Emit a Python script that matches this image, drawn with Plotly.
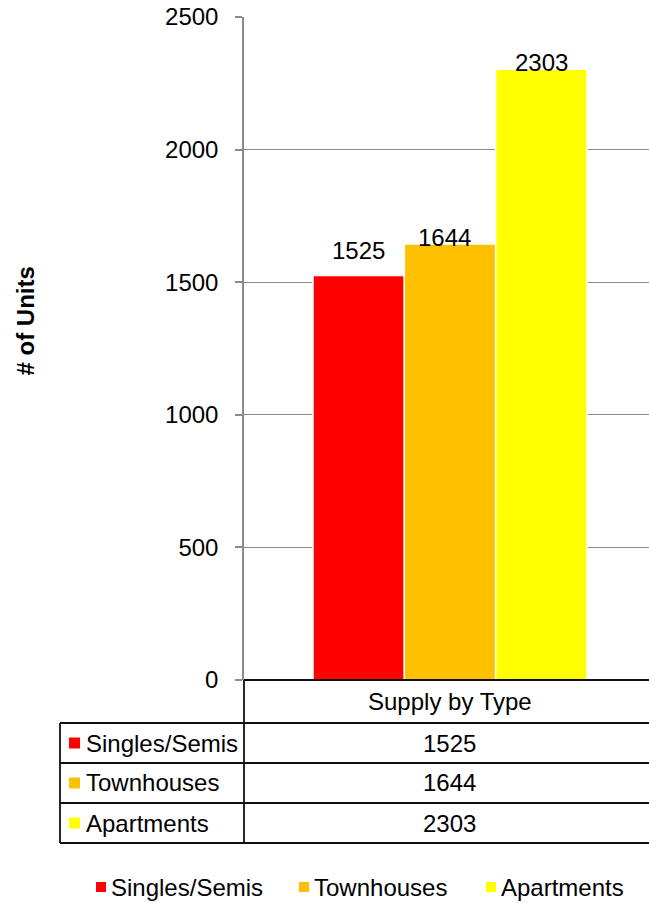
import plotly.graph_objects as go

# ---- data -------------------------------------------------------------
categories = ["Supply by Type"]
series_names = ["Singles/Semis", "Townhouses", "Apartments"]
series_values = [1525, 1644, 2303]
series_colors = ["#FF0000", "#FFC000", "#FFFF00"]
y_ticks = [0, 500, 1000, 1500, 2000, 2500]
y_title = "# of Units"

# ---- layout constants (pixels) ----------------------------------------
W, H = 649, 903
PL, PR, PT, PB = 244, 649, 17, 680      # plot area
FONT = "Arial, 'Liberation Sans', sans-serif"
FS = 24
BARGAP = 0.3235
TABLE_LEFT = 60
HEADER_H = 43
ROW_H = 40
LABEL_DX = [0, -5, 0]                    # px nudges for value labels
LABEL_DY = [10, -9, -9]
GRID = "#8a8a8a"
LEGEND_Y = 887
LEGEND_KEY_X = [96, 299, 486]            # left edge of each legend key
KEY = 10                                 # legend key size


def px_x(x):
    return (x - PL) / (PR - PL)


def px_y(y):
    return (PB - y) / (PB - PT)


fig = go.Figure()
for name, val, col in zip(series_names, series_values, series_colors):
    fig.add_trace(go.Bar(
        x=categories, y=[val], name=name,
        marker=dict(color=col, line=dict(color="white", width=1.5)),
        hoverinfo="skip", showlegend=False,
    ))

n = len(series_values)
slot = (1 - BARGAP) / n
annotations = []
shapes = []
txt = dict(family=FONT, size=FS, color="black")

# value labels above the bars
for i, val in enumerate(series_values):
    annotations.append(dict(
        x=(i - (n - 1) / 2) * slot, y=val, xref="x", yref="y",
        text=str(val), showarrow=False, xanchor="center", yanchor="bottom",
        xshift=LABEL_DX[i], yshift=LABEL_DY[i], font=txt,
    ))

# axis title
annotations.append(dict(
    x=px_x(24.5), y=px_y(321), xref="paper", yref="paper",
    text="<b>" + y_title + "</b>", textangle=-90, showarrow=False,
    xanchor="center", yanchor="middle", font=txt,
))

# ---- data table below the plot ----------------------------------------
line = dict(color="#111111", width=1.8)
top = PB
head_bot = top + HEADER_H
table_bot = head_bot + ROW_H * n
mid_x = (PL + PR) / 2 + 3

shapes.append(dict(type="line", xref="paper", yref="paper",
                   x0=px_x(PL), x1=px_x(PR), y0=px_y(top), y1=px_y(top), line=line))
annotations.append(dict(
    x=px_x(mid_x), y=px_y(top + HEADER_H / 2), xref="paper", yref="paper",
    text=categories[0], showarrow=False, xanchor="center", yanchor="middle", font=txt,
))

for r in range(n + 1):
    yy = head_bot + r * ROW_H
    shapes.append(dict(type="line", xref="paper", yref="paper",
                       x0=px_x(TABLE_LEFT), x1=px_x(PR), y0=px_y(yy), y1=px_y(yy), line=line))
shapes.append(dict(type="line", xref="paper", yref="paper",
                   x0=px_x(TABLE_LEFT), x1=px_x(TABLE_LEFT),
                   y0=px_y(head_bot), y1=px_y(table_bot), line=line))
shapes.append(dict(type="line", xref="paper", yref="paper",
                   x0=px_x(PL), x1=px_x(PL), y0=px_y(top), y1=px_y(table_bot), line=line))

for i, (name, val, col) in enumerate(zip(series_names, series_values, series_colors)):
    cy = head_bot + ROW_H * i + ROW_H / 2
    shapes.append(dict(type="rect", xref="paper", yref="paper",
                       x0=px_x(69), x1=px_x(69 + KEY + 1),
                       y0=px_y(cy - 5.5), y1=px_y(cy + 5.5),
                       fillcolor=col, line=dict(width=0)))
    annotations.append(dict(
        x=px_x(84), y=px_y(cy), xref="paper", yref="paper",
        text=name, showarrow=False, xanchor="left", yanchor="middle", font=txt,
    ))
    annotations.append(dict(
        x=px_x(mid_x), y=px_y(cy), xref="paper", yref="paper",
        text=str(val), showarrow=False, xanchor="center", yanchor="middle", font=txt,
    ))

# ---- legend along the bottom -------------------------------------------
for name, col, kx in zip(series_names, series_colors, LEGEND_KEY_X):
    shapes.append(dict(type="rect", xref="paper", yref="paper",
                       x0=px_x(kx), x1=px_x(kx + KEY),
                       y0=px_y(LEGEND_Y - KEY / 2), y1=px_y(LEGEND_Y + KEY / 2),
                       fillcolor=col, line=dict(width=0)))
    annotations.append(dict(
        x=px_x(kx + KEY + 3), y=px_y(LEGEND_Y), xref="paper", yref="paper",
        text=name, showarrow=False, xanchor="left", yanchor="middle", font=txt,
    ))

fig.update_layout(
    width=W, height=H,
    margin=dict(l=PL, r=W - PR, t=PT, b=H - PB, pad=0, autoexpand=False),
    paper_bgcolor="white", plot_bgcolor="white",
    barmode="group", bargap=BARGAP, bargroupgap=0,
    font=txt,
    showlegend=False,
    annotations=annotations,
    shapes=shapes,
)
fig.update_xaxes(range=[-0.5086, 0.4914], showticklabels=False, showgrid=False,
                 showline=False, zeroline=False, ticks="")
fig.update_yaxes(range=[0, 2500], tickvals=y_ticks, showgrid=True, gridcolor=GRID,
                 gridwidth=1, showline=True, linecolor=GRID, linewidth=1.5,
                 ticks="outside", ticklen=7, tickcolor=GRID, tickwidth=1.5,
                 ticklabelstandoff=12, zeroline=False,
                 tickfont=txt)

fig.write_html("out.html")
